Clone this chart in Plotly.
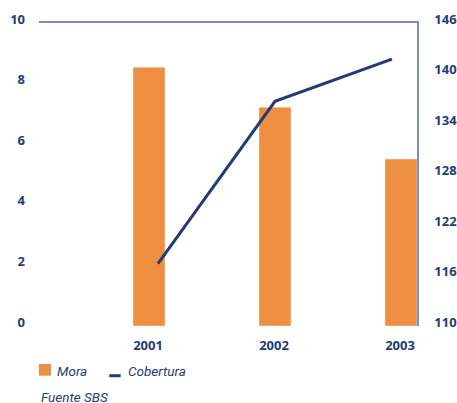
import plotly.graph_objects as go

years = ["2001", "2002", "2003"]
mora = [8.54, 7.22, 5.51]
cobertura = [117.4, 136.7, 141.7]
left_ticks = [0, 2, 4, 6, 8, 10]
right_ticks = [110, 116, 122, 128, 134, 140, 146]

NAVY = "#1f3c78"
ORANGE = "#EE8E40"
FRAME = "#7f8db0"

W, H = 457, 403
L, R, T, B = 39, 40, 23, 77
pw = W - L - R
ph = H - T - B


def px(x):
    return (x - L) / pw


def py(y):
    return (H - B - y) / ph


fig = go.Figure()
fig.add_trace(go.Bar(x=years, y=mora, marker_color=ORANGE, width=0.254,
                     name="Mora", showlegend=False))
fig.add_trace(go.Scatter(x=years, y=cobertura, mode="lines", xaxis="x2", yaxis="y2",
                         line=dict(color=NAVY, width=3), name="Cobertura",
                         showlegend=False))

tickfont = dict(family="Open Sans", size=13, color=NAVY, weight="bold")

fig.update_layout(
    width=W, height=H,
    margin=dict(l=L, r=R, t=T, b=B, pad=0, autoexpand=False),
    paper_bgcolor="white", plot_bgcolor="white",
    xaxis=dict(type="category", range=[-0.873, 2.127], showgrid=False, zeroline=False,
               showline=False, ticks="", tickfont=tickfont, ticklabelstandoff=10,
               ticklabelshift=-1, automargin=False),
    xaxis2=dict(type="category", overlaying="x", side="top", range=[-1.017, 2.214],
                showgrid=False, zeroline=False, showline=True, linecolor=FRAME,
                linewidth=2, showticklabels=False, ticks="", automargin=False),
    yaxis=dict(range=[0, 10], tickvals=left_ticks, showgrid=False, zeroline=False,
               showline=False, ticks="", tickfont=tickfont, ticklabelstandoff=13,
               ticklabelshift=-4, automargin=False),
    yaxis2=dict(range=[110, 146], tickvals=right_ticks, overlaying="y", side="right",
                showgrid=False, zeroline=False, showline=True, linecolor=FRAME,
                linewidth=1.5, ticks="", tickfont=tickfont, ticklabelstandoff=13,
                ticklabelshift=-4, automargin=False),
    showlegend=False,
)

legfont = dict(family="Roboto", size=13.5, color=NAVY, style="italic")
fig.add_shape(type="rect", xref="paper", yref="paper",
              x0=px(39), x1=px(51), y0=py(375.7), y1=py(364),
              fillcolor=ORANGE, line=dict(width=0))
fig.add_shape(type="line", xref="paper", yref="paper",
              x0=px(109.3), x1=px(120.7), y0=py(375.7), y1=py(375.7),
              line=dict(color=NAVY, width=3))
fig.add_annotation(text="Mora", xref="paper", yref="paper", x=px(55), y=py(371),
                   xanchor="left", yanchor="middle", showarrow=False, font=legfont)
fig.add_annotation(text="Cobertura", xref="paper", yref="paper", x=px(125.7), y=py(371),
                   xanchor="left", yanchor="middle", showarrow=False, font=legfont)
fig.add_annotation(text="Fuente SBS", xref="paper", yref="paper", x=px(39), y=py(397),
                   xanchor="left", yanchor="middle", showarrow=False, font=legfont)

fig.write_html("out.html", config={"displayModeBar": False},
               post_script="document.body.style.margin='0';document.body.style.overflow='hidden';")
